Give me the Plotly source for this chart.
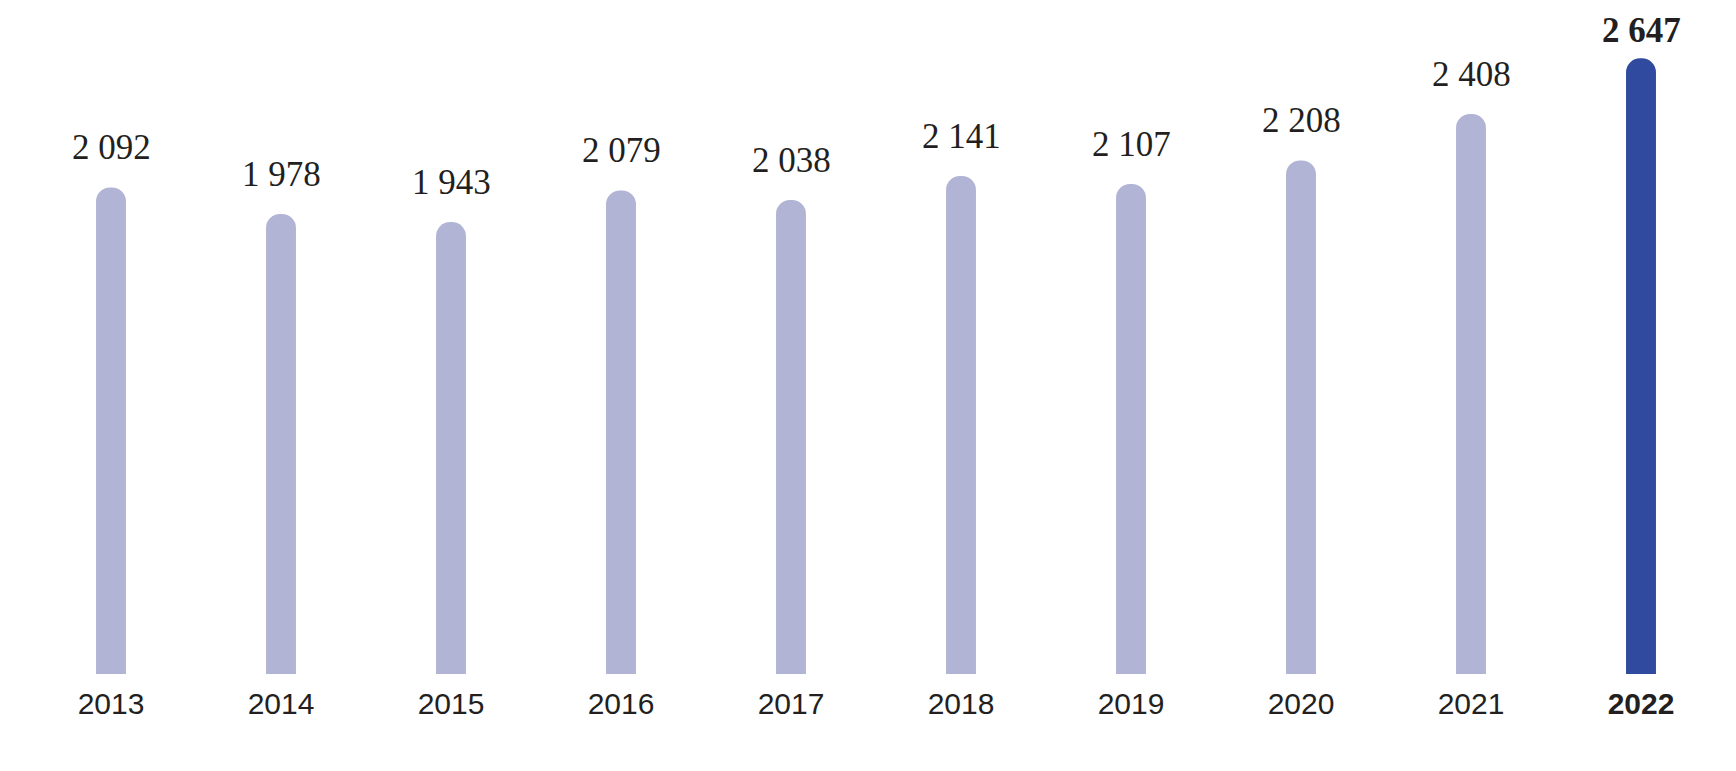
import plotly.graph_objects as go

years = ["2013", "2014", "2015", "2016", "2017", "2018", "2019", "2020", "2021", "2022"]
values = [2092, 1978, 1943, 2079, 2038, 2141, 2107, 2208, 2408, 2647]
value_labels = ["2 092", "1 978", "1 943", "2 079", "2 038", "2 141", "2 107", "2 208", "2 408", "2 647"]
tick_labels = ["2013", "2014", "2015", "2016", "2017", "2018", "2019", "2020", "2021", "<b>2022</b>"]

LIGHT = "#B1B4D4"
DARK = "#2F4A9E"
TEXT = "#231F20"

colors = [LIGHT] * (len(years) - 1) + [DARK]

fig = go.Figure()
fig.add_trace(go.Bar(
    x=years, y=values, marker=dict(color=colors, line=dict(width=0)),
    width=0.176, hoverinfo="skip",
))

for i, (v, lab) in enumerate(zip(values, value_labels)):
    last = i == len(years) - 1
    fig.add_annotation(
        x=i, y=v, xref="x", yref="y", text=("<b>%s</b>" % lab) if last else lab,
        showarrow=False, yanchor="bottom", xanchor="center", yshift=6 if last else 18,
        font=dict(family="Liberation Serif", size=35, color=TEXT),
    )

W, HT = 1720, 755      # page body has an 8px margin
PLOT_H = 666
fig.update_layout(
    width=W, height=HT,
    margin=dict(l=18, r=W - 18 - 1700, t=0, b=HT - PLOT_H, pad=0),
    paper_bgcolor="white", plot_bgcolor="white",
    barcornerradius=15,
    showlegend=False,
    xaxis=dict(
        type="category", categoryorder="array", categoryarray=years,
        tickmode="array", tickvals=years, ticktext=tick_labels,
        tickfont=dict(family="Liberation Sans", size=30, color=TEXT),
        ticks="outside", ticklen=3, tickcolor="rgba(0,0,0,0)",
        showgrid=False, zeroline=False, showline=False,
        range=[-0.5, 9.5], automargin=False,
    ),
    yaxis=dict(visible=False, range=[0, PLOT_H / 0.2326], showgrid=False, zeroline=False),
)

fig.write_html("out.html")
